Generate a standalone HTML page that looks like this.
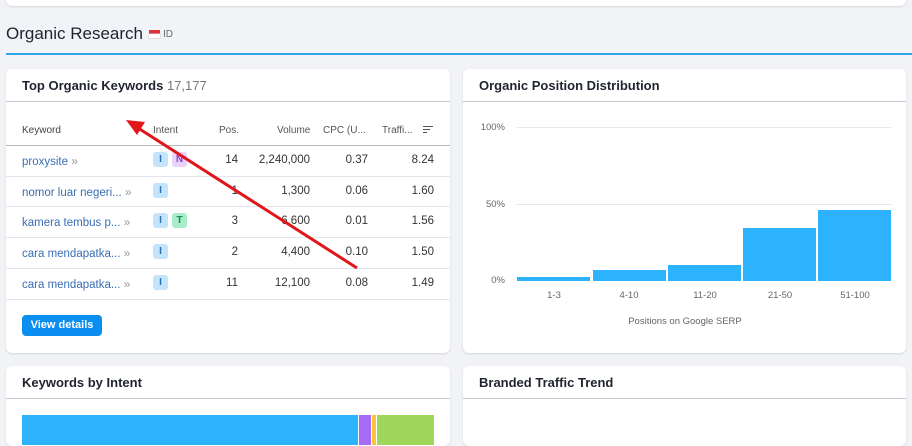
<!DOCTYPE html><html><head><style>
body{margin:0;width:912px;height:435px;background:#f2f3f7;font-family:"Liberation Sans",sans-serif;position:relative;overflow:hidden;color:#222}
.card{position:absolute;background:#fff;border-radius:6px;box-shadow:0 1px 2px rgba(0,0,0,.12)}
.h{position:absolute;left:16px;font-weight:bold;font-size:13px;color:#1f2330}
.hl{position:absolute;left:0;right:0;height:1px;background:#c8cbd2}
.t{position:absolute;font-size:11.5px;color:#333}
.r{text-align:right}
.kw{color:#3a6db5;font-size:11.5px}
.b{position:absolute;width:15px;height:15px;border-radius:3px;font-size:10px;font-weight:bold;text-align:center;line-height:15px}
.bi{background:#c3e4fb;color:#2a6fb3}.bn{background:#ead2fa;color:#8a46c9}.bt{background:#a8edc9;color:#1d8a56}
.rl{position:absolute;left:0;right:0;height:1px;background:#e3e5ea}
.ar{color:#999;font-size:12px}
</style></head><body>
<div class="card" style="left:6px;top:-10px;width:900px;height:16px"></div>
<div style="position:absolute;left:6px;top:24px;font-size:17px;color:#1f2330">Organic Research</div>
<div style="position:absolute;left:149px;top:30px;width:11px;height:4px;background:#e0313a"></div>
<div style="position:absolute;left:149px;top:34px;width:11px;height:4px;background:#fff;box-shadow:0 0 0 .5px #ccc"></div>
<div style="position:absolute;left:163px;top:29px;font-size:10px;color:#666">ID</div>
<div style="position:absolute;left:6px;right:0;top:53px;height:2px;background:#2ea6e8"></div>

<div class="card" style="left:6px;top:69px;width:444px;height:284px">
<div class="h" style="top:9px">Top Organic Keywords <span style="font-weight:normal;color:#777;font-size:13px">17,177</span></div>
<div class="hl" style="top:32px"></div>
<div class="t" style="left:16px;top:56px;color:#444;font-size:10px">Keyword</div>
<div class="t" style="left:147px;top:56px;color:#555;font-size:10px">Intent</div>
<div class="t" style="left:213px;top:56px;color:#555;font-size:10px">Pos.</div>
<div class="t" style="left:271px;top:56px;color:#555;font-size:10px">Volume</div>
<div class="t" style="left:317px;top:56px;color:#555;font-size:10px">CPC (U...</div>
<div class="t" style="left:376px;top:56px;color:#555;font-size:10px">Traffi...</div>
<div style="position:absolute;left:417px;top:57px;width:10px;height:1px;background:#555"></div>
<div style="position:absolute;left:417px;top:60px;width:7px;height:1px;background:#555"></div>
<div style="position:absolute;left:417px;top:63px;width:4px;height:1px;background:#555"></div>
<div class="hl" style="top:76px;background:#bbb"></div>

<div class="t kw" style="left:16px;top:85px">proxysite <span class="ar">»</span></div>
<div class="b bi" style="left:147px;top:83px">I</div><div class="b bn" style="left:166px;top:83px">N</div>
<div class="t r" style="left:200px;width:32px;top:85px">14</div><div class="t r" style="left:230px;width:74px;top:85px">2,240,000</div><div class="t r" style="left:310px;width:52px;top:85px">0.37</div><div class="t r" style="left:380px;width:48px;top:85px">8.24</div>
<div class="rl" style="top:107px"></div>
<div class="t kw" style="left:16px;top:116px">nomor luar negeri... <span class="ar">»</span></div>
<div class="b bi" style="left:147px;top:114px">I</div>
<div class="t r" style="left:200px;width:32px;top:116px">1</div><div class="t r" style="left:230px;width:74px;top:116px">1,300</div><div class="t r" style="left:310px;width:52px;top:116px">0.06</div><div class="t r" style="left:380px;width:48px;top:116px">1.60</div>
<div class="rl" style="top:137px"></div>
<div class="t kw" style="left:16px;top:146px">kamera tembus p... <span class="ar">»</span></div>
<div class="b bi" style="left:147px;top:144px">I</div><div class="b bt" style="left:166px;top:144px">T</div>
<div class="t r" style="left:200px;width:32px;top:146px">3</div><div class="t r" style="left:230px;width:74px;top:146px">6,600</div><div class="t r" style="left:310px;width:52px;top:146px">0.01</div><div class="t r" style="left:380px;width:48px;top:146px">1.56</div>
<div class="rl" style="top:168px"></div>
<div class="t kw" style="left:16px;top:177px">cara mendapatka... <span class="ar">»</span></div>
<div class="b bi" style="left:147px;top:175px">I</div>
<div class="t r" style="left:200px;width:32px;top:177px">2</div><div class="t r" style="left:230px;width:74px;top:177px">4,400</div><div class="t r" style="left:310px;width:52px;top:177px">0.10</div><div class="t r" style="left:380px;width:48px;top:177px">1.50</div>
<div class="rl" style="top:199px"></div>
<div class="t kw" style="left:16px;top:208px">cara mendapatka... <span class="ar">»</span></div>
<div class="b bi" style="left:147px;top:206px">I</div>
<div class="t r" style="left:200px;width:32px;top:208px">11</div><div class="t r" style="left:230px;width:74px;top:208px">12,100</div><div class="t r" style="left:310px;width:52px;top:208px">0.08</div><div class="t r" style="left:380px;width:48px;top:208px">1.49</div>
<div class="rl" style="top:230px"></div>
<div style="position:absolute;left:16px;top:246px;width:80px;height:21px;background:#0a8ef0;border-radius:4px;color:#fff;font-weight:bold;font-size:11px;text-align:center;line-height:21px">View details</div>
</div>

<div class="card" style="left:463px;top:69px;width:443px;height:284px">
<div class="h" style="top:9px">Organic Position Distribution</div>
<div class="hl" style="top:32px"></div>
</div>
<svg style="position:absolute;left:0;top:0" width="912" height="435">
<g font-family="Liberation Sans" font-size="9.5" fill="#666">
<line x1="517" x2="891" y1="127.5" y2="127.5" stroke="#e6e8ef"/>
<line x1="517" x2="891" y1="204.5" y2="204.5" stroke="#e6e8ef"/>
<text x="505" y="130" text-anchor="end">100%</text>
<text x="505" y="207" text-anchor="end">50%</text>
<text x="505" y="283" text-anchor="end">0%</text>
<g fill="#2db3fd">
<rect x="517" y="277" width="73" height="4"/>
<rect x="593" y="270" width="73" height="11"/>
<rect x="668" y="265" width="73" height="16"/>
<rect x="743" y="228" width="73" height="53"/>
<rect x="818" y="210" width="73" height="71"/>
</g>
<text x="554" y="298" text-anchor="middle">1-3</text>
<text x="629" y="298" text-anchor="middle">4-10</text>
<text x="705" y="298" text-anchor="middle">11-20</text>
<text x="780" y="298" text-anchor="middle">21-50</text>
<text x="855" y="298" text-anchor="middle">51-100</text>
<text x="685" y="324" text-anchor="middle">Positions on Google SERP</text>
</g>
</svg>

<div class="card" style="left:6px;top:366px;width:444px;height:80px">
<div class="h" style="top:9px">Keywords by Intent</div>
<div class="hl" style="top:32px"></div>
<div style="position:absolute;left:16px;top:49px;width:336px;height:30px;background:#2db3fd"></div>
<div style="position:absolute;left:353px;top:49px;width:12px;height:30px;background:#a66cf5"></div>
<div style="position:absolute;left:366px;top:49px;width:4px;height:30px;background:#fdc23c"></div>
<div style="position:absolute;left:371px;top:49px;width:57px;height:30px;background:#9fd75b"></div>
</div>
<div class="card" style="left:463px;top:366px;width:443px;height:80px">
<div class="h" style="top:9px">Branded Traffic Trend</div>
<div class="hl" style="top:32px"></div>
</div>

<svg style="position:absolute;left:0;top:0" width="912" height="435">
<line x1="357" y1="268" x2="138" y2="128" stroke="#e0161b" stroke-width="3"/>
<polygon points="126,120 145,122 137,135" fill="#e0161b"/>
</svg>
</body></html>
